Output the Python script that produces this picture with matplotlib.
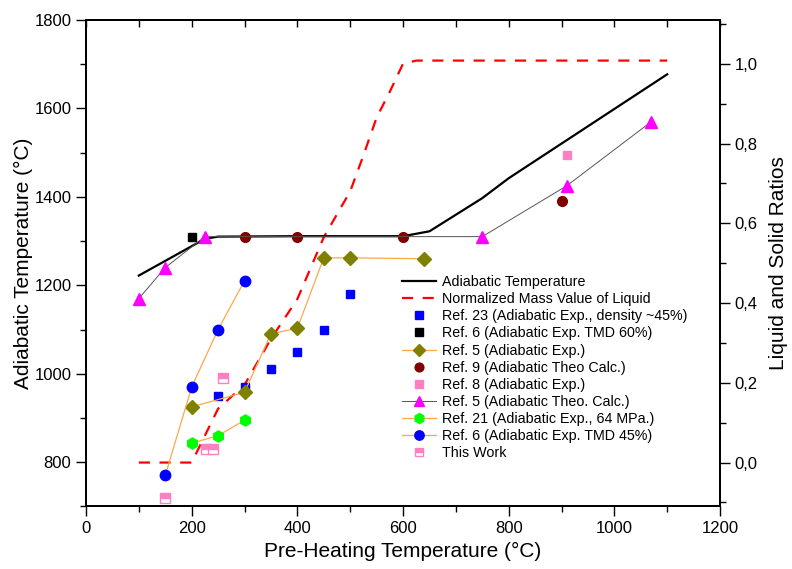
import matplotlib
matplotlib.use("Agg")
import matplotlib.pyplot as plt
from matplotlib.ticker import MultipleLocator, FuncFormatter

plt.rcParams['font.family'] = ['Liberation Sans', 'DejaVu Sans']

# Adiabatic temperature curve (left axis)
adiab_x = [100, 225, 250, 400, 600, 650, 750, 800, 1100]
adiab_y = [1222, 1305, 1310, 1311, 1311, 1322, 1397, 1442, 1677]

# Normalized mass of liquid (right axis)
liq_x = [100, 200, 250, 300, 350, 400, 450, 500, 525, 550, 575, 600, 625, 1100]
liq_y = [0.0, 0.0, 0.135, 0.195, 0.31, 0.41, 0.565, 0.68, 0.77, 0.865, 0.93, 1.0, 1.008, 1.008]

ref23_x = [250, 300, 350, 400, 450, 500]
ref23_y = [950, 970, 1010, 1050, 1100, 1180]

ref6_60_x = [200]
ref6_60_y = [1310]

ref5_exp_x = [200, 300, 350, 400, 450, 500, 640]
ref5_exp_y = [925, 958, 1090, 1103, 1262, 1262, 1260]

ref9_x = [300, 400, 600, 900]
ref9_y = [1310, 1310, 1310, 1390]

ref8_x = [910]
ref8_y = [1495]

ref5_theo_x = [100, 150, 225, 750, 910, 1070]
ref5_theo_y = [1170, 1240, 1310, 1310, 1425, 1570]

ref21_x = [200, 250, 300]
ref21_y = [843, 860, 895]

ref6_45_x = [150, 200, 250, 300]
ref6_45_y = [770, 970, 1100, 1210]

work_x = [150, 228, 241, 260]
work_y = [720, 830, 830, 990]

orange = '#FFA64D'

fig = plt.figure(figsize=(7.92, 5.69), dpi=100)
ax = fig.add_axes([0.1086, 0.110, 0.8005, 0.855])
ax2 = ax.twinx()

h_adiab, = ax.plot(adiab_x, adiab_y, color='black', lw=1.6, zorder=3,
                   label='Adiabatic Temperature')
h_liq, = ax2.plot(liq_x, liq_y, color='#FF0000', lw=1.6, dashes=(5, 4.3),
                  label='Normalized Mass Value of Liquid')

h23, = ax.plot(ref23_x, ref23_y, ls='none', marker='s', ms=6, color='#0000FF',
               label='Ref. 23 (Adiabatic Exp., density ~45%)', zorder=4)
h6a, = ax.plot(ref6_60_x, ref6_60_y, ls='none', marker='s', ms=6, color='black',
               label='Ref. 6 (Adiabatic Exp. TMD 60%)', zorder=4)
h5e, = ax.plot(ref5_exp_x, ref5_exp_y, color=orange, lw=0.9, marker='D', ms=7,
               mfc='#808000', mec='#808000', label='Ref. 5 (Adiabatic Exp.)', zorder=4)
h9, = ax.plot(ref9_x, ref9_y, ls='none', marker='o', ms=7, color='#800000',
              label='Ref. 9 (Adiabatic Theo Calc.)', zorder=4)
h8, = ax.plot(ref8_x, ref8_y, ls='none', marker='s', ms=6, color='#FF80C0',
              label='Ref. 8 (Adiabatic Exp.)', zorder=4)
h5t, = ax.plot(ref5_theo_x, ref5_theo_y, color='#555555', lw=0.7, marker='^', ms=8,
               mfc='#FF00FF', mec='#FF00FF', label='Ref. 5 (Adiabatic Theo. Calc.)', zorder=4)
h21, = ax.plot(ref21_x, ref21_y, color=orange, lw=0.9, marker='h', ms=8,
               mfc='#00FF00', mec='#00FF00', label='Ref. 21 (Adiabatic Exp., 64 MPa.)', zorder=4)
h6b, = ax.plot(ref6_45_x, ref6_45_y, color=orange, lw=0.9, marker='o', ms=7.5,
               mfc='#0000FF', mec='#0000FF', label='Ref. 6 (Adiabatic Exp. TMD 45%)', zorder=4)
hw, = ax.plot(work_x, work_y, ls='none', marker='s', ms=6.5, fillstyle='top',
              mfc='#FF80C0', mfcalt='white', mec='#FF80C0', mew=1.0,
              label='This Work', zorder=4)

ax.set_zorder(ax2.get_zorder() + 1)
ax.patch.set_visible(False)

# axes limits and ticks
ax.set_xlim(0, 1200)
ax.set_ylim(700, 1800)
ax2.set_ylim(-0.11, 1.11)

ax.xaxis.set_major_locator(MultipleLocator(200))
ax.xaxis.set_minor_locator(MultipleLocator(100))
ax.yaxis.set_major_locator(MultipleLocator(200))
ax.yaxis.set_minor_locator(MultipleLocator(100))
ax2.yaxis.set_major_locator(MultipleLocator(0.2))
ax2.yaxis.set_minor_locator(MultipleLocator(0.1))
ax2.yaxis.set_major_formatter(FuncFormatter(lambda v, p: f"{v:.1f}".replace('.', ',').replace('-0,0', '0,0')))

ax.tick_params(axis='both', which='major', direction='out', length=7, width=1.0, labelsize=12)
ax.tick_params(axis='both', which='minor', direction='out', length=4, width=1.0)
ax2.tick_params(axis='y', which='major', direction='out', length=7, width=1.0, labelsize=12)
ax2.tick_params(axis='y', which='minor', direction='out', length=4, width=1.0)

top = ax.secondary_xaxis('top')
top.xaxis.set_major_locator(MultipleLocator(100))
top.tick_params(axis='x', which='major', direction='in', length=5, width=1.0, labeltop=False)
top.tick_params(axis='x', which='minor', length=0)

for a in (ax, ax2):
    for s in a.spines.values():
        s.set_linewidth(1.3)
top.spines['top'].set_linewidth(1.3)

ax.set_xlabel('Pre-Heating Temperature (°C)', fontsize=15, labelpad=4)
ax.set_ylabel('Adiabatic Temperature (°C)', fontsize=15, labelpad=1)
ax2.set_ylabel('Liquid and Solid Ratios', fontsize=15, labelpad=8)

handles = [h_adiab, h_liq, h23, h6a, h5e, h9, h8, h5t, h21, h6b, hw]
fig.legend(handles=handles, loc='upper left', bbox_to_anchor=(402 / 792, 1 - 275 / 569),
           frameon=False, fontsize=10.3, handlelength=2.4, handletextpad=0.4,
           labelspacing=0.22, borderpad=0, borderaxespad=0, markerscale=0.9)

fig.savefig('out.png', dpi=100)
